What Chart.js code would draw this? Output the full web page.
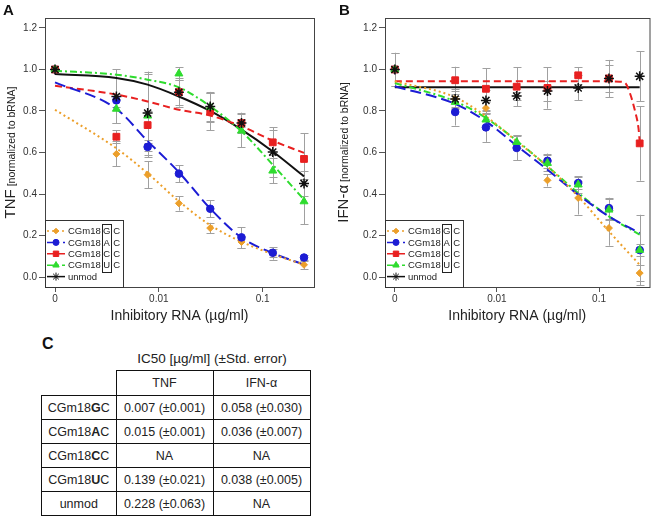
<!DOCTYPE html>
<html>
<head>
<meta charset="utf-8">
<script src="https://cdn.jsdelivr.net/npm/chart.js@4.4.1/dist/chart.umd.min.js"></script>
<style>
  body { margin: 0; width: 656px; height: 522px; background: #fff; position: relative; overflow: hidden;
         font-family: "Liberation Sans", Arial, sans-serif; color: #222; }
  #canvasA { position: absolute; left: 0; top: 0; }
  #canvasB { position: absolute; left: 330px; top: 0; }
  #cLetter { position: absolute; left: 42px; top: 335px; font-size: 16px; font-weight: bold; color: #111; }
  #cTitle { position: absolute; left: 112px; width: 200px; top: 351px; font-size: 13.5px; text-align: center; white-space: nowrap; }
  #ic50 { position: absolute; left: 41px; top: 370px; border-collapse: collapse; font-size: 12.5px; }
  #ic50 td { border: 1.5px solid #111; text-align: center; padding: 0; height: 23px; white-space: nowrap; }
  #ic50 tr:first-child td { height: 24px; }
  #ic50 td.empty { border-top: 0; border-left: 0; }
</style>
</head>
<body>
<canvas id="canvasA" width="328" height="330"></canvas>
<canvas id="canvasB" width="326" height="330"></canvas>
<div id="cLetter">C</div>
<div id="cTitle">IC50 [µg/ml] (±Std. error)</div>
<table id="ic50"></table>
<script>
// doses (µg/ml); the 0 dose is drawn where 0.001 would sit on the log axis
const conc = [0, 0.0039, 0.0078, 0.0156, 0.03125, 0.0625, 0.125, 0.25];
const zeroDose = 0.001;
const xTicks = [0.001, 0.01, 0.1];
const xTickLabels = ['0', '0.01', '0.1'];
const yTicks = [0, 0.2, 0.4, 0.6, 0.8, 1.0, 1.2];

const names = ['CGm18GC', 'CGm18AC', 'CGm18CC', 'CGm18UC', 'unmod'];
const boxedLetters = ['G', 'A', 'C', 'U'];

// panel A - TNF
const tnfGC = [1.0, 0.593, 0.493, 0.355, 0.236, 0.169, 0.114, 0.059];
const tnfAC = [1.0, 0.851, 0.627, 0.498, 0.329, 0.191, 0.117, 0.094];
const tnfCC = [1.0, 0.676, 0.732, 0.891, 0.798, 0.742, 0.649, 0.569];
const tnfUC = [1.0, 0.81, 0.777, 0.98, 0.819, 0.705, 0.512, 0.364];
const tnfUnmod = [1.0, 0.87, 0.79, 0.89, 0.822, 0.742, 0.602, 0.451];

const tnfGCErr = [0, 0.06, 0.065, 0.035, 0.025, 0.03, 0.03, 0.02];
const tnfACErr = [0, 0.03, 0.02, 0.04, 0.04, 0.05, 0.02, 0.01];
const tnfCCErr = [0, 0.03, 0.07, 0.07, 0.09, 0.05, 0.06, 0.125];
const tnfUCErr = [0, 0.07, 0.2, 0.03, 0.07, 0.08, 0.06, 0.11];
const tnfUnmodErr = [0, 0.13, 0.2, 0.06, 0.07, 0.02, 0.12, 0.06];

// fitted curves at the dose positions
const tnfGCFit = [0.806, 0.62, 0.50, 0.365, 0.25, 0.17, 0.11, 0.06];
const tnfACFit = [0.938, 0.81, 0.655, 0.505, 0.33, 0.19, 0.115, 0.06];
const tnfCCFit = [0.922, 0.879, 0.846, 0.806, 0.778, 0.726, 0.657, 0.598];
const tnfUCFit = [0.994, 0.975, 0.951, 0.914, 0.822, 0.702, 0.541, 0.373];
const tnfUnmodFit = [0.978, 0.959, 0.927, 0.87, 0.8, 0.71, 0.605, 0.485];

// panel B - IFN-alpha
const ifnGC = [1.0, 0.858, 0.814, 0.622, 0.466, 0.381, 0.236, 0.019];
const ifnAC = [1.0, 0.795, 0.721, 0.622, 0.56, 0.453, 0.332, 0.13];
const ifnCC = [1.0, 0.948, 0.907, 0.917, 0.911, 0.972, 0.957, 0.644];
const ifnUC = [1.0, 0.843, 0.758, 0.65, 0.549, 0.445, 0.324, 0.13];
const ifnUnmod = [1.0, 0.858, 0.851, 0.872, 0.896, 0.911, 0.956, 0.967];

const ifnGCErr = [0, 0.05, 0.03, 0.06, 0.03, 0.08, 0.085, 0.04];
const ifnACErr = [0, 0.065, 0.07, 0.06, 0.035, 0.03, 0.05, 0.03];
const ifnCCErr = [0.08, 0.065, 0.1, 0.095, 0.1, 0.04, 0.065, 0.18];
const ifnUCErr = [0, 0.03, 0.03, 0.03, 0.04, 0.04, 0.05, 0.17];
const ifnUnmodErr = [0.08, 0.04, 0.05, 0.02, 0.05, 0.06, 0.09, 0.12];

const ifnGCFit = [0.943, 0.866, 0.774, 0.654, 0.533, 0.388, 0.22, 0.059];
const ifnACFit = [0.919, 0.834, 0.75, 0.633, 0.517, 0.397, 0.292, 0.212];
const ifnUCFit = [0.935, 0.846, 0.766, 0.657, 0.533, 0.405, 0.292, 0.204];
const ifnUnmodFit = [0.914, 0.914, 0.914, 0.914, 0.914, 0.914, 0.914, 0.914];
const ifnCCFitConc = [0, 0.0039, 0.0078, 0.0156, 0.03125, 0.0625, 0.125, 0.16, 0.18, 0.2, 0.225, 0.243, 0.25];
const ifnCCFit = [0.943, 0.943, 0.943, 0.943, 0.943, 0.943, 0.943, 0.941, 0.935, 0.888, 0.80, 0.72, 0.655];

// table C
const tableRows = ['CGm18GC', 'CGm18AC', 'CGm18CC', 'CGm18UC', 'unmod'];
const tnfIC50 = ['0.007 (±0.001)', '0.015 (±0.001)', 'NA', '0.139 (±0.021)', '0.228 (±0.063)'];
const ifnIC50 = ['0.058 (±0.030)', '0.036 (±0.007)', 'NA', '0.038 (±0.005)', 'NA'];

const FONT = '"Liberation Sans", Arial, sans-serif';
const styles = [
  { color: '#ec9f2a', dash: [2, 3], marker: 'rectRot', radius: 3.5 },
  { color: '#1c1cd4', dash: [11, 5], marker: 'circle', radius: 3.8 },
  { color: '#e82020', dash: [7, 4], marker: 'rect', radius: 4.8 },
  { color: '#2edc2e', dash: [7, 3, 2, 3], marker: 'triangle', radius: 4.6 },
  { color: '#111111', dash: [], marker: 'star', radius: 5 }
];

Chart.defaults.font.family = FONT;
Chart.defaults.color = '#333';

const decor = {
  id: 'decor',
  beforeDatasetsDraw(chart) {
    const ctx = chart.ctx, xs = chart.scales.x, ys = chart.scales.y;
    ctx.save();
    ctx.strokeStyle = '#a0a0a0';
    ctx.lineWidth = 1;
    chart.data.datasets.forEach(ds => {
      if (!ds.errors) return;
      ds.data.forEach((p, i) => {
        const e = ds.errors[i];
        if (!e) return;
        const x = Math.round(xs.getPixelForValue(p.x)) + 0.5;
        const y1 = ys.getPixelForValue(p.y - e), y2 = ys.getPixelForValue(p.y + e);
        ctx.beginPath();
        ctx.moveTo(x, y1); ctx.lineTo(x, y2);
        ctx.moveTo(x - 4, Math.round(y1) + 0.5); ctx.lineTo(x + 4, Math.round(y1) + 0.5);
        ctx.moveTo(x - 4, Math.round(y2) + 0.5); ctx.lineTo(x + 4, Math.round(y2) + 0.5);
        ctx.stroke();
      });
    });
    ctx.restore();
  },
  afterDraw(chart, args, o) {
    const ctx = chart.ctx, a = chart.chartArea;
    ctx.save();
    // frame
    ctx.strokeStyle = '#444';
    ctx.lineWidth = 1;
    ctx.strokeRect(a.left + 0.5, a.top + 0.5, a.right - a.left, a.bottom - a.top);
    // panel letter
    ctx.fillStyle = '#111';
    ctx.font = 'bold 15px ' + FONT;
    ctx.textAlign = 'left';
    ctx.textBaseline = 'alphabetic';
    ctx.fillText(o.letter, o.letterX, 15);
    // x title
    ctx.fillStyle = '#222';
    ctx.font = '14px ' + FONT;
    ctx.textAlign = 'center';
    ctx.fillText('Inhibitory RNA (µg/ml)', (a.left + a.right) / 2, 320);
    // y title, two sizes
    ctx.save();
    ctx.translate(o.yTitleX, (a.top + a.bottom) / 2);
    ctx.rotate(-Math.PI / 2);
    ctx.textAlign = 'left';
    ctx.font = '15px ' + FONT;
    const w1 = ctx.measureText(o.yMain).width;
    ctx.font = '10.5px ' + FONT;
    const w2 = ctx.measureText(o.ySub).width;
    let tx = -(w1 + w2) / 2;
    ctx.font = '15px ' + FONT;
    ctx.fillText(o.yMain, tx, 0);
    ctx.font = '10.5px ' + FONT;
    ctx.fillText(o.ySub, tx + w1, 0);
    ctx.restore();

    // legend
    const lx = a.left, ly = 220, lw = 78, lh = a.bottom - ly;
    ctx.fillStyle = '#fff';
    ctx.fillRect(lx, ly, lw, lh);
    ctx.strokeStyle = '#333';
    ctx.strokeRect(lx + 0.5, ly + 0.5, lw, lh);
    ctx.font = '9.5px ' + FONT;
    ctx.textAlign = 'left';
    ctx.textBaseline = 'middle';
    const textX = lx + 23;
    const wPre = ctx.measureText('CGm18').width;
    const boxL = textX + wPre + 1.5;
    names.forEach((n, i) => {
      const y = ly + 11 + i * 11.4;
      const st = styles[i];
      ctx.strokeStyle = st.color;
      ctx.fillStyle = st.color;
      ctx.lineWidth = 1.5;
      ctx.setLineDash(st.dash);
      ctx.beginPath(); ctx.moveTo(lx + 2, y); ctx.lineTo(lx + 20, y); ctx.stroke();
      ctx.setLineDash([]);
      ctx.lineWidth = 1;
      Chart.helpers.drawPoint(ctx, { pointStyle: st.marker, radius: st.radius * 0.8, rotation: 0, borderWidth: 1 }, lx + 11, y);
      ctx.fillStyle = '#222';
      if (i < 4) {
        ctx.fillText('CGm18', textX, y + 0.5);
        ctx.textAlign = 'center';
        ctx.fillText(boxedLetters[i], boxL + 4.5, y + 0.5);
        ctx.textAlign = 'left';
        ctx.fillText('C', boxL + 11, y + 0.5);
      } else {
        ctx.fillText(n, textX, y + 0.5);
      }
    });
    ctx.strokeStyle = '#222';
    ctx.lineWidth = 1;
    ctx.strokeRect(Math.round(boxL) + 0.5, Math.round(ly + 3.5) + 0.5, 9, Math.round(3 * 11.4 + 14));
    ctx.restore();
  }
};

function buildChart(id, series, plug, yAxisWidth, rightPad) {
  const datasets = [];
  series.forEach((s, i) => {
    const st = styles[i];
    datasets.push({
      type: 'line',
      label: names[i] + ' fit',
      data: s.fitX.map((c, j) => ({ x: c === 0 ? zeroDose : c, y: s.fit[j] })),
      borderColor: st.color,
      borderDash: st.dash,
      borderWidth: 2,
      pointRadius: 0,
      cubicInterpolationMode: 'monotone',
      fill: false,
      order: 10 + i
    });
    datasets.push({
      type: 'scatter',
      label: names[i],
      data: conc.map((c, j) => ({ x: c === 0 ? zeroDose : c, y: s.pts[j] })),
      errors: s.err,
      pointStyle: st.marker,
      pointRadius: st.radius,
      backgroundColor: st.color,
      borderColor: st.color,
      borderWidth: st.marker === 'star' ? 1.5 : 1,
      order: 5 - i
    });
  });

  return new Chart(document.getElementById(id), {
    data: { datasets },
    options: {
      responsive: false,
      animation: false,
      layout: { padding: { top: 18, right: rightPad, left: 0, bottom: 0 } },
      plugins: { legend: { display: false }, tooltip: { enabled: false }, decor: plug },
      scales: {
        x: {
          type: 'logarithmic',
          min: 0.000801,
          max: 0.312,
          afterBuildTicks: sc => { sc.ticks = xTicks.map(v => ({ value: v })); },
          afterFit: sc => { sc.height = 43; },
          ticks: {
            font: { size: 10 }, color: '#333', padding: 1, maxRotation: 0,
            callback: v => xTickLabels[xTicks.indexOf(v)]
          },
          grid: { drawOnChartArea: false, drawTicks: true, tickLength: 5, color: '#555' },
          border: { display: false }
        },
        y: {
          type: 'linear',
          min: -0.048,
          max: 1.248,
          afterBuildTicks: sc => { sc.ticks = yTicks.map(v => ({ value: v })); },
          afterFit: sc => { sc.width = yAxisWidth; },
          ticks: { font: { size: 10 }, color: '#333', padding: 2, callback: v => v.toFixed(1) },
          grid: { drawOnChartArea: false, drawTicks: true, tickLength: 6, color: '#555' },
          border: { display: false }
        }
      }
    },
    plugins: [decor]
  });
}

buildChart('canvasA', [
  { pts: tnfGC, err: tnfGCErr, fitX: conc, fit: tnfGCFit },
  { pts: tnfAC, err: tnfACErr, fitX: conc, fit: tnfACFit },
  { pts: tnfCC, err: tnfCCErr, fitX: conc, fit: tnfCCFit },
  { pts: tnfUC, err: tnfUCErr, fitX: conc, fit: tnfUCFit },
  { pts: tnfUnmod, err: tnfUnmodErr, fitX: conc, fit: tnfUnmodFit }
], { letter: 'A', letterX: 3, yMain: 'TNF', ySub: ' [normalized to bRNA]', yTitleX: 15 }, 45, 14);

buildChart('canvasB', [
  { pts: ifnGC, err: ifnGCErr, fitX: conc, fit: ifnGCFit },
  { pts: ifnAC, err: ifnACErr, fitX: conc, fit: ifnACFit },
  { pts: ifnCC, err: ifnCCErr, fitX: ifnCCFitConc, fit: ifnCCFit },
  { pts: ifnUC, err: ifnUCErr, fitX: conc, fit: ifnUCFit },
  { pts: ifnUnmod, err: ifnUnmodErr, fitX: conc, fit: ifnUnmodFit }
], { letter: 'B', letterX: 9, yMain: 'IFN-α', ySub: ' [normalized to bRNA]', yTitleX: 18 }, 55, 2);

// table C
const table = document.getElementById('ic50');
let html = '<tr><td class="empty" style="width:74px"></td><td style="width:96px">TNF</td><td style="width:96px">IFN-α</td></tr>';
tableRows.forEach((r, i) => {
  const label = r === 'unmod' ? r : r.slice(0, 5) + '<b>' + r[5] + '</b>' + r.slice(6);
  html += '<tr><td>' + label + '</td><td>' + tnfIC50[i] + '</td><td>' + ifnIC50[i] + '</td></tr>';
});
table.innerHTML = html;
</script>
</body>
</html>
